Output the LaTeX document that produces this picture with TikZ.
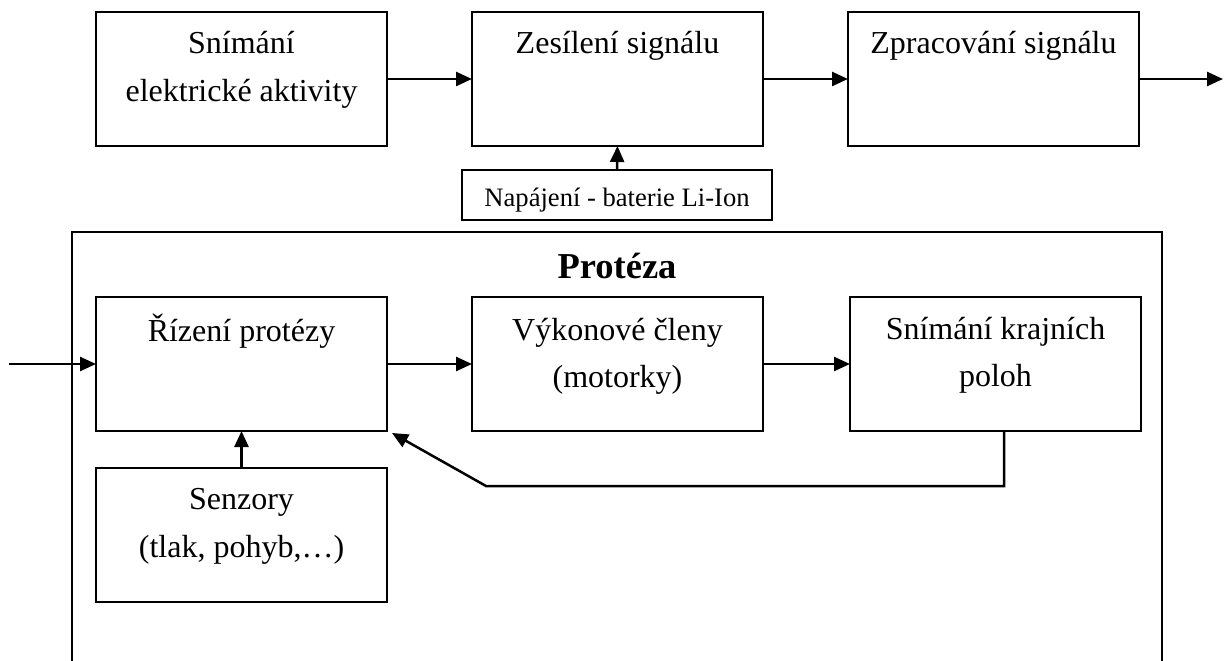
\documentclass[tikz,border=0pt]{standalone}
\usepackage{fontspec}
\setmainfont{Liberation Serif}
\usetikzlibrary{arrows.meta,calc}
\begin{document}
\begin{tikzpicture}[x=1pt,y=-1pt,
  blk/.style={draw,line width=2.5pt,minimum width=291pt,minimum height=134pt,inner sep=0pt,outer sep=0pt,anchor=north west},
  small/.style={draw,line width=2.5pt,minimum width=310pt,minimum height=50pt,inner sep=0pt,outer sep=0pt,anchor=north west},
  txt/.style={anchor=base,inner sep=0pt,font=\fontsize{32}{38}\selectfont},
  stxt/.style={anchor=base,inner sep=0pt,font=\fontsize{26.6}{32}\selectfont},
  ttl/.style={anchor=base,inner sep=0pt,font=\fontsize{36.5}{42}\selectfont\bfseries},
  arr/.style={line width=2.5pt,-{Triangle[length=16pt,width=14pt]}},
  ln/.style={line width=2.5pt}]
\useasboundingbox (0,0) rectangle (1227,661);
% top row
\node[blk] (b1) at (96,12) {};
\node[blk] (b2) at (472,12) {};
\node[blk] (b3) at (848,12) {};
\node[small] (nap) at (462,170) {};
\node[txt] (t1a) at ($(b1.north)+(0,42)$) {Snímání};
\node[txt] (t1b) at ($(b1.north)+(0,89)$) {elektrické aktivity};
\node[txt] (t2) at ($(b2.north)+(0,42)$) {Zesílení signálu};
\node[txt] (t3) at ($(b3.north)+(0,42)$) {Zpracování signálu};
\node[stxt] (tn) at ($(nap.north)+(0,36)$) {Napájení - baterie Li-Ion};
\coordinate (out) at (1223,0);
\draw[arr] (b1.east) -- (b2.west);
\draw[arr] (b2.east) -- (b3.west);
\draw[arr] (b3.east) -- (out |- b3.east);
\draw[arr] (nap.north) -- (b2.south);
% prosthesis frame
\coordinate (fl) at (72,661);
\coordinate (ftl) at (72,232);
\coordinate (ftr) at (1162,232);
\coordinate (fr) at (1162,661);
\draw[ln] (fl) -- (ftl) -- (ftr) -- (fr);
\node[ttl] (pt) at (617,278) {Protéza};
% bottom row
\node[blk] (r) at (96,297) {};
\node[blk] (v) at (472,297) {};
\node[blk] (k) at (850,297) {};
\node[blk] (s) at (96,468) {};
\node[txt] (tr) at ($(r.north)+(0,44)$) {Řízení protézy};
\node[txt] (tv1) at ($(v.north)+(0,43)$) {Výkonové členy};
\node[txt] (tv2) at ($(v.north)+(0,90)$) {(motorky)};
\node[txt] (tk1) at ($(k.north)+(0,42)$) {Snímání krajních};
\node[txt] (tk2) at ($(k.north)+(0,89)$) {poloh};
\node[txt] (ts1) at ($(s.north)+(0,41)$) {Senzory};
\node[txt] (ts2) at ($(s.north)+(0,89)$) {(tlak, pohyb,…)};
\coordinate (in) at (9,0);
\draw[arr] (in |- r.west) -- (r.west);
\draw[arr] (r.east) -- (v.west);
\draw[arr] (v.east) -- (k.west);
\draw[arr] (s.north) -- (r.south);
\coordinate (fb1) at (1004,486);
\coordinate (fb2) at (486,486);
\coordinate (fbt) at ($(r.south east)+(5,2)$);
\draw[arr] (k.south -| fb1) -- (fb1) -- (fb2) -- (fbt);
\end{tikzpicture}
\end{document}
